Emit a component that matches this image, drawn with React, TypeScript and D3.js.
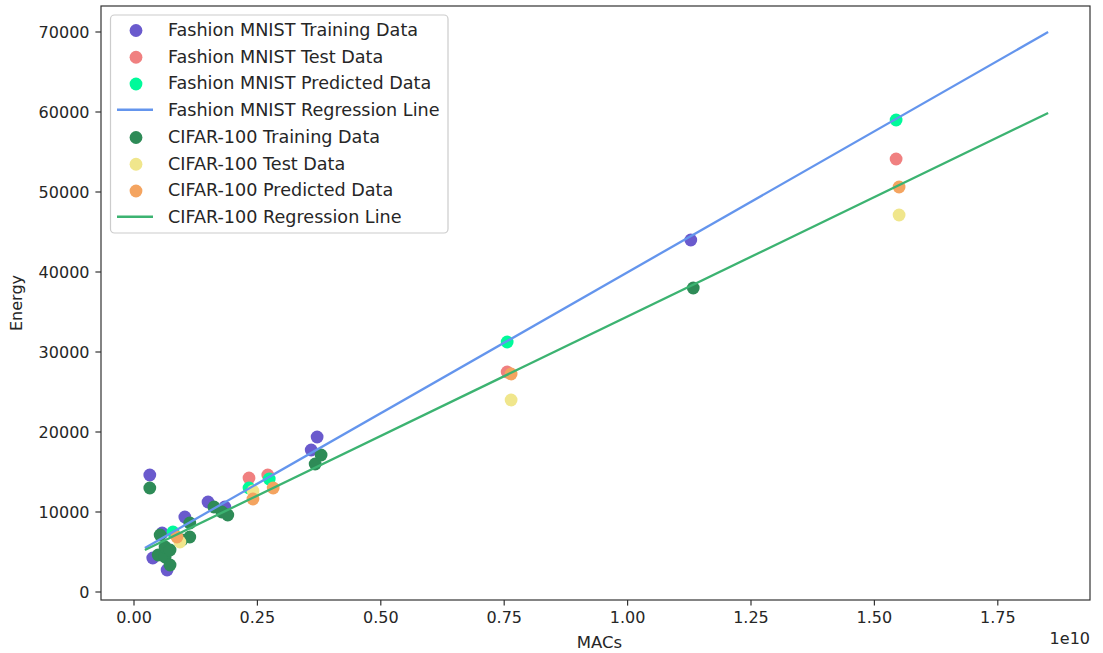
import React from "react";
import * as d3 from "d3";

// MACs in units of 1e10, Energy in raw units
const fmTrainX = [0.032, 0.038, 0.057, 0.067, 0.103, 0.150, 0.184, 0.359, 0.371, 1.128];
const fmTrainY = [14625, 4250, 7375, 2750, 9375, 11250, 10625, 17750, 19375, 44000];

const fmTestX = [0.233, 0.271, 0.756, 1.544];
const fmTestY = [14250, 14625, 27500, 54125];

const fmPredX = [0.079, 0.233, 0.274, 0.756, 1.544];
const fmPredY = [7500, 13000, 14125, 31250, 59000];

const cfTrainX = [0.032, 0.049, 0.053, 0.063, 0.063, 0.073, 0.073, 0.097, 0.113, 0.113, 0.162, 0.178, 0.190, 0.367, 0.379, 1.133];
const cfTrainY = [13000, 4625, 7125, 4375, 5625, 5250, 3375, 6500, 8625, 6875, 10625, 10000, 9625, 16000, 17125, 38000];

const cfTestX = [0.093, 0.241, 0.764, 1.550];
const cfTestY = [6250, 12625, 24000, 47125];

const cfPredX = [0.087, 0.241, 0.282, 0.764, 1.550];
const cfPredY = [6875, 11625, 13000, 27250, 50625];

const fmLineX = [0.022, 1.852];
const fmLineY = [5500, 70000];
const cfLineX = [0.022, 1.852];
const cfLineY = [5250, 59875];

const xTicks = [0, 0.25, 0.5, 0.75, 1.0, 1.25, 1.5, 1.75];
const yTicks = [0, 10000, 20000, 30000, 40000, 50000, 60000, 70000];

const legendLabels = [
  "Fashion MNIST Training Data",
  "Fashion MNIST Test Data",
  "Fashion MNIST Predicted Data",
  "Fashion MNIST Regression Line",
  "CIFAR-100 Training Data",
  "CIFAR-100 Test Data",
  "CIFAR-100 Predicted Data",
  "CIFAR-100 Regression Line",
];

const C = {
  fmTrain: "#6a5acd",
  fmTest: "#f08080",
  fmPred: "#00fa9a",
  fmLine: "#6495ed",
  cfTrain: "#2e8b57",
  cfTest: "#f0e68c",
  cfPred: "#f4a460",
  cfLine: "#3cb371",
};

const FONT = "'DejaVu Sans', sans-serif";
const TXT = "#262626";

export default function App() {
  const W = 1103, H = 653;
  const L = 101, R = 1090, T = 6, B = 600;
  const x = d3.scaleLinear().domain([-0.06686, 1.9368]).range([L, R]);
  const y = d3.scaleLinear().domain([-1000, 73250]).range([B, T]);
  const line = d3.line<[number, number]>().x(d => x(d[0])).y(d => y(d[1]));

  const scatters = [
    { xs: fmTrainX, ys: fmTrainY, c: C.fmTrain },
    { xs: fmTestX, ys: fmTestY, c: C.fmTest },
    { xs: fmPredX, ys: fmPredY, c: C.fmPred },
    { xs: cfTrainX, ys: cfTrainY, c: C.cfTrain },
    { xs: cfTestX, ys: cfTestY, c: C.cfTest },
    { xs: cfPredX, ys: cfPredY, c: C.cfPred },
  ];
  const lines = [
    { xs: fmLineX, ys: fmLineY, c: C.fmLine },
    { xs: cfLineX, ys: cfLineY, c: C.cfLine },
  ];

  const legendItems = [
    { type: "dot", c: C.fmTrain },
    { type: "dot", c: C.fmTest },
    { type: "dot", c: C.fmPred },
    { type: "line", c: C.fmLine },
    { type: "dot", c: C.cfTrain },
    { type: "dot", c: C.cfTest },
    { type: "dot", c: C.cfPred },
    { type: "line", c: C.cfLine },
  ];
  const legX = 110.5, legY = 15, legW = 337.5, legH = 218;
  const row0 = 29.5, rowStep = 26.75;

  return (
    <svg width={W} height={H} style={{ position: "absolute", left: 0, top: 0, background: "#fff" }} fontFamily={FONT}>
      <rect x={0} y={0} width={W} height={H} fill="#fff" />
      <defs>
        <clipPath id="plotclip">
          <rect x={L} y={T} width={R - L} height={B - T} />
        </clipPath>
      </defs>
      <g clipPath="url(#plotclip)">
        {scatters.map((s, i) => (
          <g key={i}>
            {s.xs.map((xv, j) => (
              <circle key={j} cx={x(xv)} cy={y(s.ys[j])} r={6.4} fill={s.c} />
            ))}
          </g>
        ))}
        {lines.map((l, i) => (
          <path key={i} d={line(l.xs.map((xv, j) => [xv, l.ys[j]]) as [number, number][]) || ""}
            fill="none" stroke={l.c} strokeWidth={2.3} />
        ))}
      </g>
      {/* spines */}
      <rect x={L} y={T} width={R - L} height={B - T} fill="none" stroke="#333" strokeWidth={1.2} />
      {/* x ticks */}
      {xTicks.map((t, i) => (
        <g key={i}>
          <line x1={x(t)} x2={x(t)} y1={B} y2={B + 5.6} stroke="#333" strokeWidth={1.2} />
          <text x={x(t)} y={B + 23} textAnchor="middle" fontSize={16} fill={TXT}>{t.toFixed(2)}</text>
        </g>
      ))}
      {/* y ticks */}
      {yTicks.map((t, i) => (
        <g key={i}>
          <line x1={L - 5.6} x2={L} y1={y(t)} y2={y(t)} stroke="#333" strokeWidth={1.2} />
          <text x={L - 11.5} y={y(t)} dy="0.36em" textAnchor="end" fontSize={16} fill={TXT}>{t}</text>
        </g>
      ))}
      <text x={(L + R) / 2 + 4} y={648} textAnchor="middle" fontSize={16.5} fill={TXT}>MACs</text>
      <text x={R} y={644} textAnchor="end" fontSize={16} fill={TXT}>1e10</text>
      <text transform={`translate(22,${(T + B) / 2}) rotate(-90)`} textAnchor="middle" fontSize={16} fill={TXT}>Energy</text>
      {/* legend */}
      <rect x={legX} y={legY} width={legW} height={legH} rx={4} fill="#fff" fillOpacity={0.8} stroke="#cccccc" strokeWidth={1.2} />
      {legendItems.map((it, i) => {
        const cy = legY + row0 - 15 + i * rowStep;
        return (
          <g key={i}>
            {it.type === "dot" ? (
              <circle cx={136} cy={cy + 1} r={6.4} fill={it.c} />
            ) : (
              <line x1={117} x2={153} y1={cy} y2={cy} stroke={it.c} strokeWidth={2.3} />
            )}
            <text x={168} y={cy} dy="0.36em" fontSize={17.6} fill={TXT}>{legendLabels[i]}</text>
          </g>
        );
      })}
    </svg>
  );
}
